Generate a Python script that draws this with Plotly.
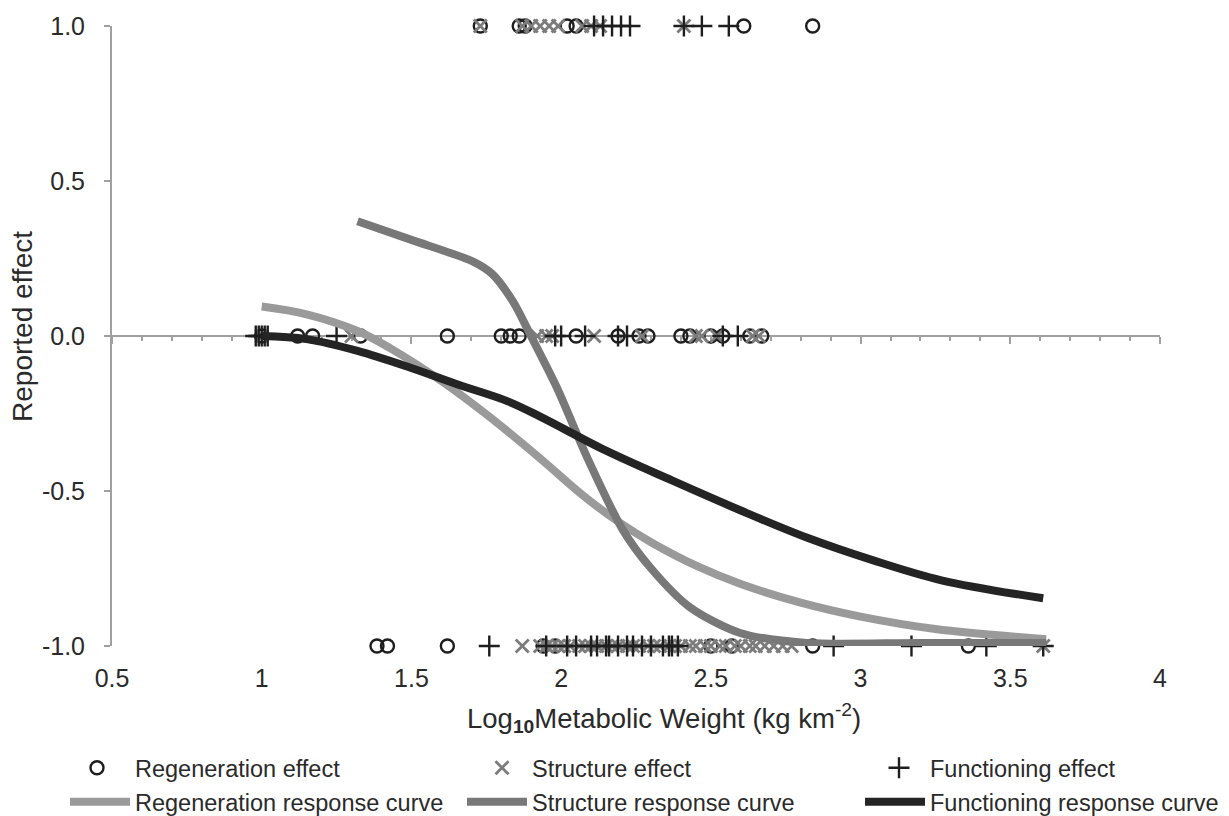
import plotly.graph_objects as go

# ---- data ----
regen_top_x = [1.73, 1.86, 1.88, 2.02, 2.05, 2.61, 2.84]
struct_top_x = [1.73, 1.87, 1.90, 1.93, 1.96, 1.99, 2.07, 2.10, 2.13, 2.41]
func_top_x = [2.11, 2.14, 2.17, 2.20, 2.23, 2.41, 2.47, 2.56]

regen_mid_x = [1.0, 1.12, 1.17, 1.33, 1.62, 1.80, 1.83, 1.86, 2.05, 2.19, 2.26, 2.29,
               2.40, 2.43, 2.50, 2.54, 2.63, 2.67]
struct_mid_x = [1.0, 1.30, 1.92, 1.95, 1.97, 2.11, 2.27, 2.45, 2.47, 2.52, 2.64, 2.66]
func_mid_x = [0.98, 0.99, 1.0, 1.01, 1.02, 1.25, 1.98, 2.0, 2.08, 2.19, 2.22, 2.54, 2.59]

regen_bot_x = [1.385, 1.42, 1.62, 1.94, 1.98, 2.50, 2.57, 2.84, 3.36]
struct_bot_x = [1.87, 1.93, 1.95, 1.97, 1.99, 2.01, 2.03, 2.06, 2.08, 2.10, 2.12, 2.15,
                2.17, 2.19, 2.22, 2.24, 2.26, 2.29, 2.31, 2.33, 2.36, 2.38, 2.40, 2.43,
                2.45, 2.48, 2.50, 2.53, 2.55, 2.58, 2.60, 2.63, 2.65, 2.68, 2.71, 2.74,
                2.77, 3.61]
func_bot_x = [1.76, 1.95, 2.02, 2.05, 2.10, 2.12, 2.15, 2.16, 2.19, 2.22, 2.24, 2.27,
              2.30, 2.34, 2.36, 2.37, 2.39, 2.91, 3.17, 3.42, 3.61]

regen_curve_x = [1.0, 1.15, 1.32, 1.43, 1.6, 1.76, 1.93, 2.08, 2.2, 2.3, 2.46, 2.6, 2.8, 3.0,
                 3.25, 3.62]
regen_curve_y = [0.095, 0.07, 0.016, -0.04, -0.145, -0.26, -0.395, -0.52, -0.605, -0.665, -0.745,
                 -0.80, -0.86, -0.905, -0.945, -0.978]
struct_curve_x = [1.32, 1.5, 1.706, 1.77, 1.84, 1.896, 1.986, 2.086, 2.207, 2.297, 2.43, 2.598,
                  2.82, 3.2, 3.62]
struct_curve_y = [0.37, 0.31, 0.24, 0.20, 0.11, 0.006, -0.167, -0.39, -0.627, -0.746, -0.875,
                  -0.958, -0.99, -0.99, -0.99]
func_curve_x = [1.0, 1.15, 1.32, 1.49, 1.65, 1.82, 1.93, 2.15, 2.37, 2.6, 2.82, 3.04, 3.27, 3.61]
func_curve_y = [0.0, -0.01, -0.048, -0.10, -0.155, -0.21, -0.26, -0.37, -0.466, -0.563, -0.65,
                -0.723, -0.788, -0.846]

x_ticks = [0.5, 1, 1.5, 2, 2.5, 3, 3.5, 4]
x_tick_text = ["0.5", "1", "1.5", "2", "2.5", "3", "3.5", "4"]
y_ticks = [-1.0, -0.5, 0.0, 0.5, 1.0]
y_tick_text = ["-1.0", "-0.5", "0.0", "0.5", "1.0"]


def row(xs, yv):
    return [yv] * len(xs)


FONT = "Liberation Sans, Arial, sans-serif"
TXT = "#2a2a2a"
W, H = 1229, 816

fig = go.Figure()

reg_x = regen_top_x + regen_mid_x + regen_bot_x
reg_y = row(regen_top_x, 1.0) + row(regen_mid_x, 0.0) + row(regen_bot_x, -1.0)
st_x = struct_top_x + struct_mid_x + struct_bot_x
st_y = row(struct_top_x, 1.0) + row(struct_mid_x, 0.0) + row(struct_bot_x, -1.0)
fu_x = func_top_x + func_mid_x + func_bot_x
fu_y = row(func_top_x, 1.0) + row(func_mid_x, 0.0) + row(func_bot_x, -1.0)

fig.add_trace(go.Scatter(x=reg_x, y=reg_y, mode="markers", name="Regeneration effect",
                         cliponaxis=False, legend="legend",
                         marker=dict(symbol="circle-open", size=13, color="#1e1e1e",
                                     line=dict(width=2.4, color="#1e1e1e"))))
fig.add_trace(go.Scatter(x=st_x, y=st_y, mode="markers", name="Structure effect",
                         cliponaxis=False, legend="legend2",
                         marker=dict(symbol="x-thin-open", size=13, color="#7c7c7c",
                                     line=dict(width=2.8, color="#7c7c7c"))))
fig.add_trace(go.Scatter(x=fu_x, y=fu_y, mode="markers", name="Functioning effect",
                         cliponaxis=False, legend="legend3",
                         marker=dict(symbol="cross-thin-open", size=15, color="#1e1e1e",
                                     line=dict(width=2.4, color="#1e1e1e"))))

fig.add_trace(go.Scatter(x=regen_curve_x, y=regen_curve_y, mode="lines",
                         name="Regeneration response curve", cliponaxis=False, legend="legend4",
                         line=dict(color="#9a9a9a", width=8, shape="spline", smoothing=1.0)))
fig.add_trace(go.Scatter(x=struct_curve_x, y=struct_curve_y, mode="lines",
                         name="Structure response curve", cliponaxis=False, legend="legend5",
                         line=dict(color="#787878", width=8, shape="spline", smoothing=0.8)))
fig.add_trace(go.Scatter(x=func_curve_x, y=func_curve_y, mode="lines",
                         name="Functioning response curve", cliponaxis=False, legend="legend6",
                         line=dict(color="#242424", width=8, shape="spline", smoothing=1.0)))

# dummy trace so the axis line at y = 0 gets drawn
fig.add_trace(go.Scatter(x=[None], y=[None], xaxis="x2", showlegend=False, hoverinfo="skip"))


def leg(text_x, center_y, iw):
    return dict(orientation="h", xref="container", yref="container",
                x=(text_x - iw - 10) / W, y=1 - center_y / H, xanchor="left", yanchor="middle",
                font=dict(size=23.5, color=TXT, family=FONT), itemwidth=iw,
                bgcolor="rgba(0,0,0,0)", borderwidth=0)


fig.update_layout(
    width=W, height=H,
    margin=dict(l=112, r=69, t=24, b=170),
    paper_bgcolor="white", plot_bgcolor="white",
    font=dict(family=FONT, size=24, color=TXT),
    showlegend=True,
    xaxis=dict(range=[0.5, 4], tickvals=x_ticks, ticktext=x_tick_text,
               showline=False, showgrid=False, zeroline=False,
               ticks="outside", ticklen=10, tickcolor="rgba(0,0,0,0)",
               tickfont=dict(size=25, color=TXT, family=FONT)),
    xaxis2=dict(range=[0.5, 4], overlaying="x", matches="x", anchor="free", position=0.5,
                showline=True, linecolor="#a0a0a0", linewidth=2,
                showgrid=False, zeroline=False, showticklabels=False,
                ticks="outside", ticklen=7, tickwidth=2, tickcolor="#a0a0a0", dtick=0.5,
                tick0=0.5, layer="below traces",
                minor=dict(ticks="outside", ticklen=4, tickwidth=2, tickcolor="#a0a0a0",
                           dtick=0.1, tick0=0.5)),
    yaxis=dict(range=[-1.0, 1.0], tickvals=y_ticks, ticktext=y_tick_text,
               showline=True, linecolor="#a0a0a0", linewidth=2,
               showgrid=False, zeroline=False,
               ticks="outside", ticklen=6, tickwidth=2, tickcolor="#a0a0a0",
               ticklabelstandoff=14, layer="below traces",
               tickfont=dict(size=25, color=TXT, family=FONT)),
    legend=leg(135, 768, 66),
    legend2=leg(532, 768, 50),
    legend3=leg(930, 768, 52),
    legend4=leg(135, 802, 60),
    legend5=leg(532, 802, 60),
    legend6=leg(930, 802, 60),
    annotations=[
        dict(text="Log<sub><b>10</b></sub>Metabolic Weight (kg km<sup>-2</sup>)",
             xref="paper", yref="paper", x=0.527, y=-0.116, xanchor="center", yanchor="middle",
             showarrow=False, font=dict(size=27.5, color=TXT, family=FONT)),
        dict(text="Reported effect", xref="paper", yref="paper", x=-0.086, y=0.516,
             xanchor="center", yanchor="middle", textangle=-90, showarrow=False,
             font=dict(size=28, color=TXT, family=FONT)),
    ],
)

fig.write_html("out.html", config={"displayModeBar": False},
               post_script="document.body.style.margin='0';")
